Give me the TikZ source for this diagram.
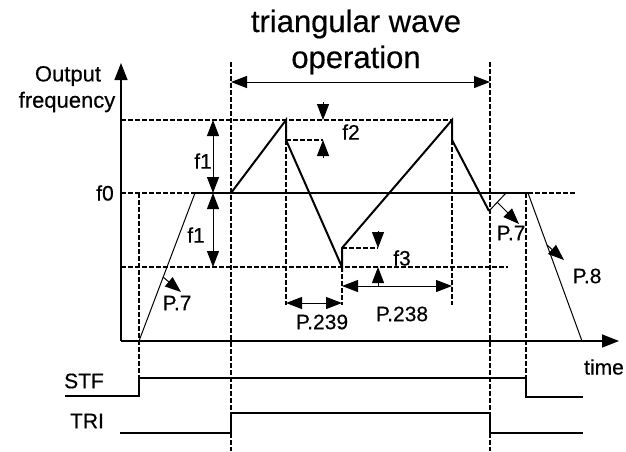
\documentclass[tikz,border=0pt]{standalone}
\usepackage{fontspec}
\setmainfont{Liberation Sans}
\newfontfamily\labfont[FakeBold=0.4]{Liberation Sans}
\usetikzlibrary{arrows.meta}
\begin{document}
\begin{tikzpicture}[x=1pt,y=-1pt,
  wave/.style={line width=2pt, line join=miter},
  axisline/.style={line width=1.5pt},
  thinline/.style={line width=1pt},
  dashline/.style={line width=1.2pt, dash pattern=on 4.5pt off 2.5pt},
  sigline/.style={line width=1.2pt},
  arrtip/.style={-{Triangle[length=16pt,width=12pt]}, line width=1pt},
  darrtip/.style={{Triangle[length=16pt,width=12pt]}-{Triangle[length=16pt,width=12pt]}, line width=1pt},
  lab/.style={inner sep=0pt, font=\labfont\fontsize{21}{23}\selectfont},
  ttl/.style={inner sep=0pt, font=\labfont\fontsize{31}{34}\selectfont}]
\useasboundingbox (0,0) rectangle (626,451);
% key coordinates
\coordinate (O) at (121,341);
\coordinate (Ytop) at (121,63);
\coordinate (Xend) at (619,341);
\coordinate (A0) at (139,341);
\coordinate (A1) at (195,193);
\coordinate (T0) at (231,193);
\coordinate (P1) at (286,120);
\coordinate (P1b) at (286,140);
\coordinate (B1) at (342,267);
\coordinate (B1b) at (342,248);
\coordinate (P2) at (452,120);
\coordinate (P2b) at (452,140);
\coordinate (E1) at (489,211);
\coordinate (E2) at (506,193);
\coordinate (D0) at (528,193);
\coordinate (D1) at (582,341);
% axes
\draw[axisline,-{Triangle[length=17pt,width=13pt]}] (O) -- (Ytop);
\draw[axisline,-{Triangle[length=17pt,width=13pt]}] (O) -- (Xend);
% dashed reference lines
\draw[dashline] (121,120) -- (P2);
\draw[dashline] (121,193) -- (A1);
\draw[dashline] (121,267) -- (508,267);
\draw[dashline] (D0) -- (576,193);
\draw[dashline] (139,193) -- (139,378);
\draw[dashline] (231,62) -- (231,451);
\draw[dashline] (490,62) -- (490,451);
\draw[dashline] (P1b) -- (286,305);
\draw[dashline] (B1) -- (342,305);
\draw[dashline] (P2b) -- (452,305);
\draw[dashline] (526,193) -- (526,397);
\draw[dashline] (P1b) -- (323,140);
\draw[dashline] (B1b) -- (378,248);
% f0 solid line
\draw[axisline] (A1) -- (D0);
% waveform
\draw[thinline] (A0) -- (A1);
\draw[wave] (T0) -- (P1) -- (P1b) -- (B1) -- (B1b) -- (P2) -- (P2b) -- (E1);
\draw[thinline] (E1) -- (E2);
\draw[thinline] (D0) -- (D1);
% signals
\draw[sigline] (65,396) -- (139,396) -- (139,378) -- (526,378) -- (526,397) -- (583,397);
\draw[sigline] (120,433) -- (231,433) -- (231,413) -- (490,413) -- (490,433) -- (583,433);
% triangular wave operation arrow
\draw[darrtip] (231,82) -- (490,82);
% f1 arrows
\draw[darrtip] (213,120) -- (213,193);
\draw[darrtip] (213,193) -- (213,267);
% f2 arrows
\draw[arrtip] (323,102) -- (323,120);
\draw[arrtip] (323,158) -- (323,140);
% f3 arrows
\draw[arrtip] (378,231) -- (378,248);
\draw[arrtip] (378,286) -- (378,267);
% time arrows
\draw[darrtip] (286,303) -- (342,303);
\draw[darrtip] (342,286) -- (452,286);
% rate arrows
\draw[arrtip] (163,277) -- (181,292);
\draw[arrtip] (497,202) -- (519,224);
\draw[arrtip] (547,245) -- (564,260);
% labels
\node[ttl] (title1) at (356,24) {triangular wave};
\node[ttl] (title2) at (356,60) {operation};
\node[lab, font=\labfont\fontsize{22}{24}\selectfont] (out) at (68,76) {Output};
\node[lab, font=\labfont\fontsize{22}{24}\selectfont] (freq) at (67,102) {frequency};
\node[lab] (f0) at (105,193) {f0};
\node[lab] (f1a) at (203,161) {f1};
\node[lab] (f1b) at (196,235) {f1};
\node[lab] (f2) at (351,132) {f2};
\node[lab] (f3) at (402,258) {f3};
\node[lab] (p239) at (322,322) {P.239};
\node[lab] (p238) at (402,314) {P.238};
\node[lab] (p7a) at (177,303) {P.7};
\node[lab] (p7b) at (511,233) {P.7};
\node[lab] (p8) at (587,276) {P.8};
\node[lab] (time) at (604,367) {time};
\node[lab] (stf) at (84,381) {STF};
\node[lab] (tri) at (87,421) {TRI};
\end{tikzpicture}
\end{document}
